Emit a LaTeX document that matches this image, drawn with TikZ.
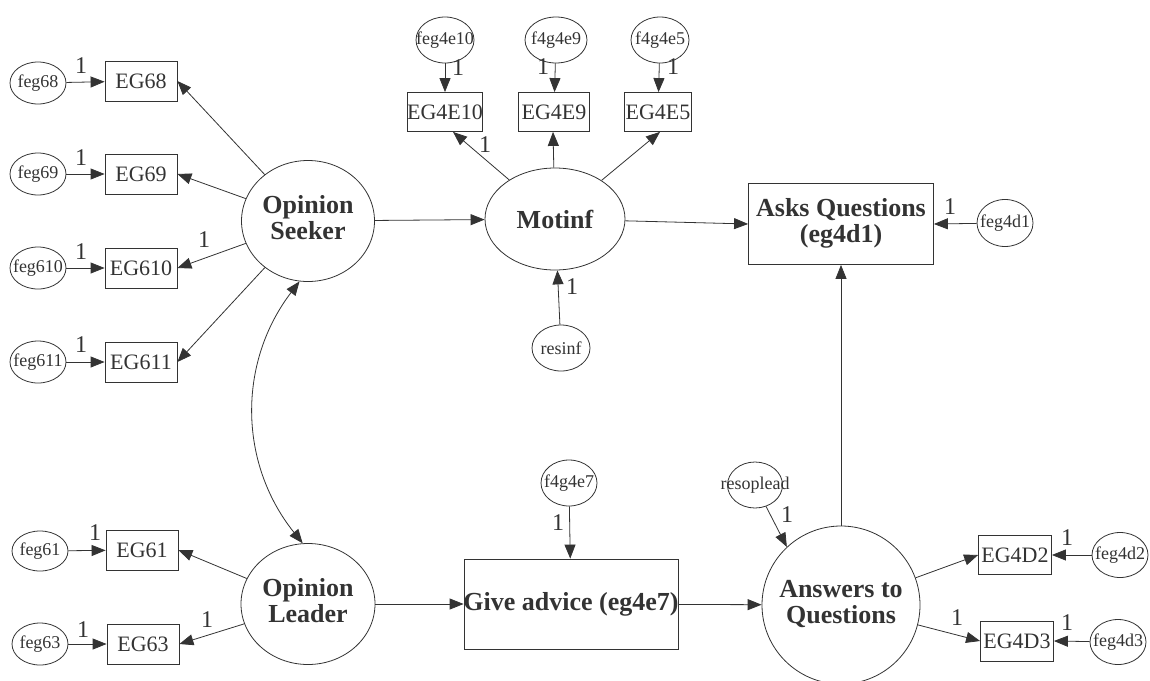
\documentclass[tikz,border=0pt]{standalone}
\usepackage{fontspec}
\setmainfont{Liberation Serif}
\usetikzlibrary{shapes.geometric,arrows.meta}
\definecolor{ink}{HTML}{333333}
\newcommand\errfnt{\fontsize{18}{20}\selectfont}
\newcommand\obsfnt{\fontsize{22}{24}\selectfont}
\newcommand\latfnt{\fontsize{26}{26}\selectfont\bfseries}
\newcommand\onefnt{\fontsize{24}{24}\selectfont}
% text that may overhang its shape without enlarging it
\newcommand\ovr[1]{\makebox[0pt][c]{#1}}
\newcommand\twoline[1]{\makebox[0pt][c]{\begin{tabular}{@{}c@{}}#1\end{tabular}}}

\begin{document}
\begin{tikzpicture}[x=1pt,y=-1pt,
  every node/.style={text=ink},
  errv/.style={ellipse,draw=ink,line width=0.8pt,inner sep=0pt,minimum width=56pt,minimum height=44pt,font=\errfnt},
  obsv/.style={rectangle,draw=ink,line width=0.8pt,inner sep=0pt,minimum width=72pt,minimum height=40pt,font=\obsfnt},
  latv/.style={ellipse,draw=ink,line width=0.8pt,inner sep=0pt,font=\latfnt},
  bigbox/.style={rectangle,draw=ink,line width=0.8pt,inner sep=0pt,font=\latfnt},
  wt/.style={font=\onefnt,inner sep=0pt},
  arr/.style={draw=ink,line width=0.8pt,-{Triangle[length=14pt,width=11pt]}},
  dbl/.style={draw=ink,line width=0.8pt,{Triangle[length=14pt,width=11pt]}-{Triangle[length=14pt,width=11pt]}},
]
\useasboundingbox (0,0) rectangle (1150,680);

% latent variables and composite boxes
\node[latv,minimum width=133pt,minimum height=121pt] (seeker) at (308,221) {\twoline{Opinion\\Seeker}};
\node[latv,minimum width=134pt,minimum height=121pt] (leader) at (308,604) {\twoline{Opinion\\Leader}};
\node[latv,minimum width=140pt,minimum height=102pt] (motinf) at (555,219) {\ovr{Motinf}};
\node[latv,minimum width=158pt,minimum height=158pt] (answers) at (841,605) {\twoline{Answers to\\Questions}};
\node[bigbox,minimum width=185pt,minimum height=81pt] (asks) at (841,224) {\twoline{Asks Questions\\(eg4d1)}};
\node[bigbox,minimum width=214pt,minimum height=90pt] (give) at (571,604) {\ovr{Give advice (eg4e7)}};

% observed indicators
\node[obsv] (eg68) at (141,81) {EG68};
\node[obsv] (eg69) at (141,174) {EG69};
\node[obsv] (eg610) at (141,268) {EG610};
\node[obsv] (eg611) at (141,362) {EG611};
\node[obsv] (eg61) at (142,550) {EG61};
\node[obsv] (eg63) at (143,644) {EG63};
\node[obsv,minimum width=74pt,minimum height=39pt] (eg4e10) at (445,112) {EG4E10};
\node[obsv,minimum width=71pt,minimum height=39pt] (eg4e9) at (554,112) {EG4E9};
\node[obsv,minimum width=67pt,minimum height=39pt] (eg4e5) at (658,112) {EG4E5};
\node[obsv,minimum width=73pt,minimum height=39pt] (eg4d2) at (1015,555) {EG4D2};
\node[obsv,minimum width=73pt,minimum height=40pt] (eg4d3) at (1017,641) {EG4D3};

% error terms and residuals
\node[errv,minimum height=42pt] (feg68) at (38,83) {\ovr{feg68}};
\node[errv,minimum height=42pt] (feg69) at (38,174) {\ovr{feg69}};
\node[errv,minimum height=42pt] (feg610) at (38,268) {\ovr{feg610}};
\node[errv,minimum height=42pt] (feg611) at (38,362) {\ovr{feg611}};
\node[errv,minimum height=40pt] (feg61) at (40,551) {\ovr{feg61}};
\node[errv,minimum height=42pt] (feg63) at (40,644) {\ovr{feg63}};
\node[errv,minimum width=58pt,minimum height=46pt] (feg4e10) at (445,40) {\ovr{feg4e10}};
\node[errv,minimum width=62pt,minimum height=46pt] (f4g4e9) at (556,40) {\ovr{f4g4e9}};
\node[errv,minimum width=58pt,minimum height=46pt] (f4g4e5) at (660,40) {\ovr{f4g4e5}};
\node[errv,minimum height=47pt] (feg4d1) at (1005,223) {\ovr{feg4d1}};
\node[errv,minimum width=58pt,minimum height=46pt] (resinf) at (561,348) {\ovr{resinf}};
\node[errv,minimum width=55pt,minimum height=46pt] (resoplead) at (755,485) {\ovr{resoplead}};
\node[errv,minimum height=46pt] (f4g4e7) at (569,483) {\ovr{f4g4e7}};
\node[errv,minimum height=45pt] (feg4d2) at (1120,555) {\ovr{feg4d2}};
\node[errv,minimum height=45pt] (feg4d3) at (1118,642) {\ovr{feg4d3}};

% error paths
\draw[arr] (feg68) -- (eg68);
\draw[arr] (feg69) -- (eg69);
\draw[arr] (feg610) -- (eg610);
\draw[arr] (feg611) -- (eg611);
\draw[arr] (feg61) -- (eg61);
\draw[arr] (feg63) -- (eg63);
\draw[arr] (feg4e10) -- (eg4e10);
\draw[arr] (f4g4e9) -- (eg4e9);
\draw[arr] (f4g4e5) -- (eg4e5);
\draw[arr] (feg4d1) -- (asks.east);
\draw[arr] (resinf) -- (motinf);
\draw[arr] (resoplead) -- (answers.133);
\draw[arr] (f4g4e7) -- (give);
\draw[arr] (feg4d2) -- (eg4d2.east);
\draw[arr] (feg4d3) -- (eg4d3.east);

% loadings
\draw[arr] (seeker) -- (eg68.east);
\draw[arr] (seeker) -- (eg69.east);
\draw[arr] (seeker) -- (eg610.east);
\draw[arr] (seeker) -- (eg611.east);
\draw[arr] (leader) -- (eg61.east);
\draw[arr] (leader) -- (eg63.east);
\draw[arr] (motinf) -- ([xshift=8pt]eg4e10.south);
\draw[arr] (motinf) -- ([xshift=-1pt]eg4e9.south);
\draw[arr] (motinf) -- ([xshift=2pt]eg4e5.south);
\draw[arr] (answers) -- (eg4d2.west);
\draw[arr] (answers) -- (eg4d3.west);

% structural paths
\draw[arr] (seeker) -- (motinf);
\draw[arr] (motinf) -- (asks.west);
\draw[arr] (answers) -- (asks);
\draw[arr] (leader) -- (give);
\draw[arr] (give) -- (answers);
\draw[dbl] (seeker.262) to[bend right=38] (leader.95);

% fixed weights
\node[wt] (w68) at (81,66) {1};
\node[wt] (w69) at (81,158) {1};
\node[wt] (w610) at (81,252) {1};
\node[wt] (w611) at (81,345) {1};
\node[wt] (w610b) at (204,240) {1};
\node[wt] (w61) at (95,533) {1};
\node[wt] (w63) at (83,630) {1};
\node[wt] (w63b) at (207,620) {1};
\node[wt] (w4e10) at (458,68) {1};
\node[wt] (w4e9) at (543,67) {1};
\node[wt] (w4e5) at (673,67) {1};
\node[wt] (w4e10b) at (485,145) {1};
\node[wt] (winf) at (572,287) {1};
\node[wt] (w4d1) at (950,207) {1};
\node[wt] (wlead) at (787,515) {1};
\node[wt] (w4e7) at (558,523) {1};
\node[wt] (w4d2) at (1067,538) {1};
\node[wt] (w4d3) at (1067,623) {1};
\node[wt] (w4d3b) at (957,618) {1};
\end{tikzpicture}
\end{document}
